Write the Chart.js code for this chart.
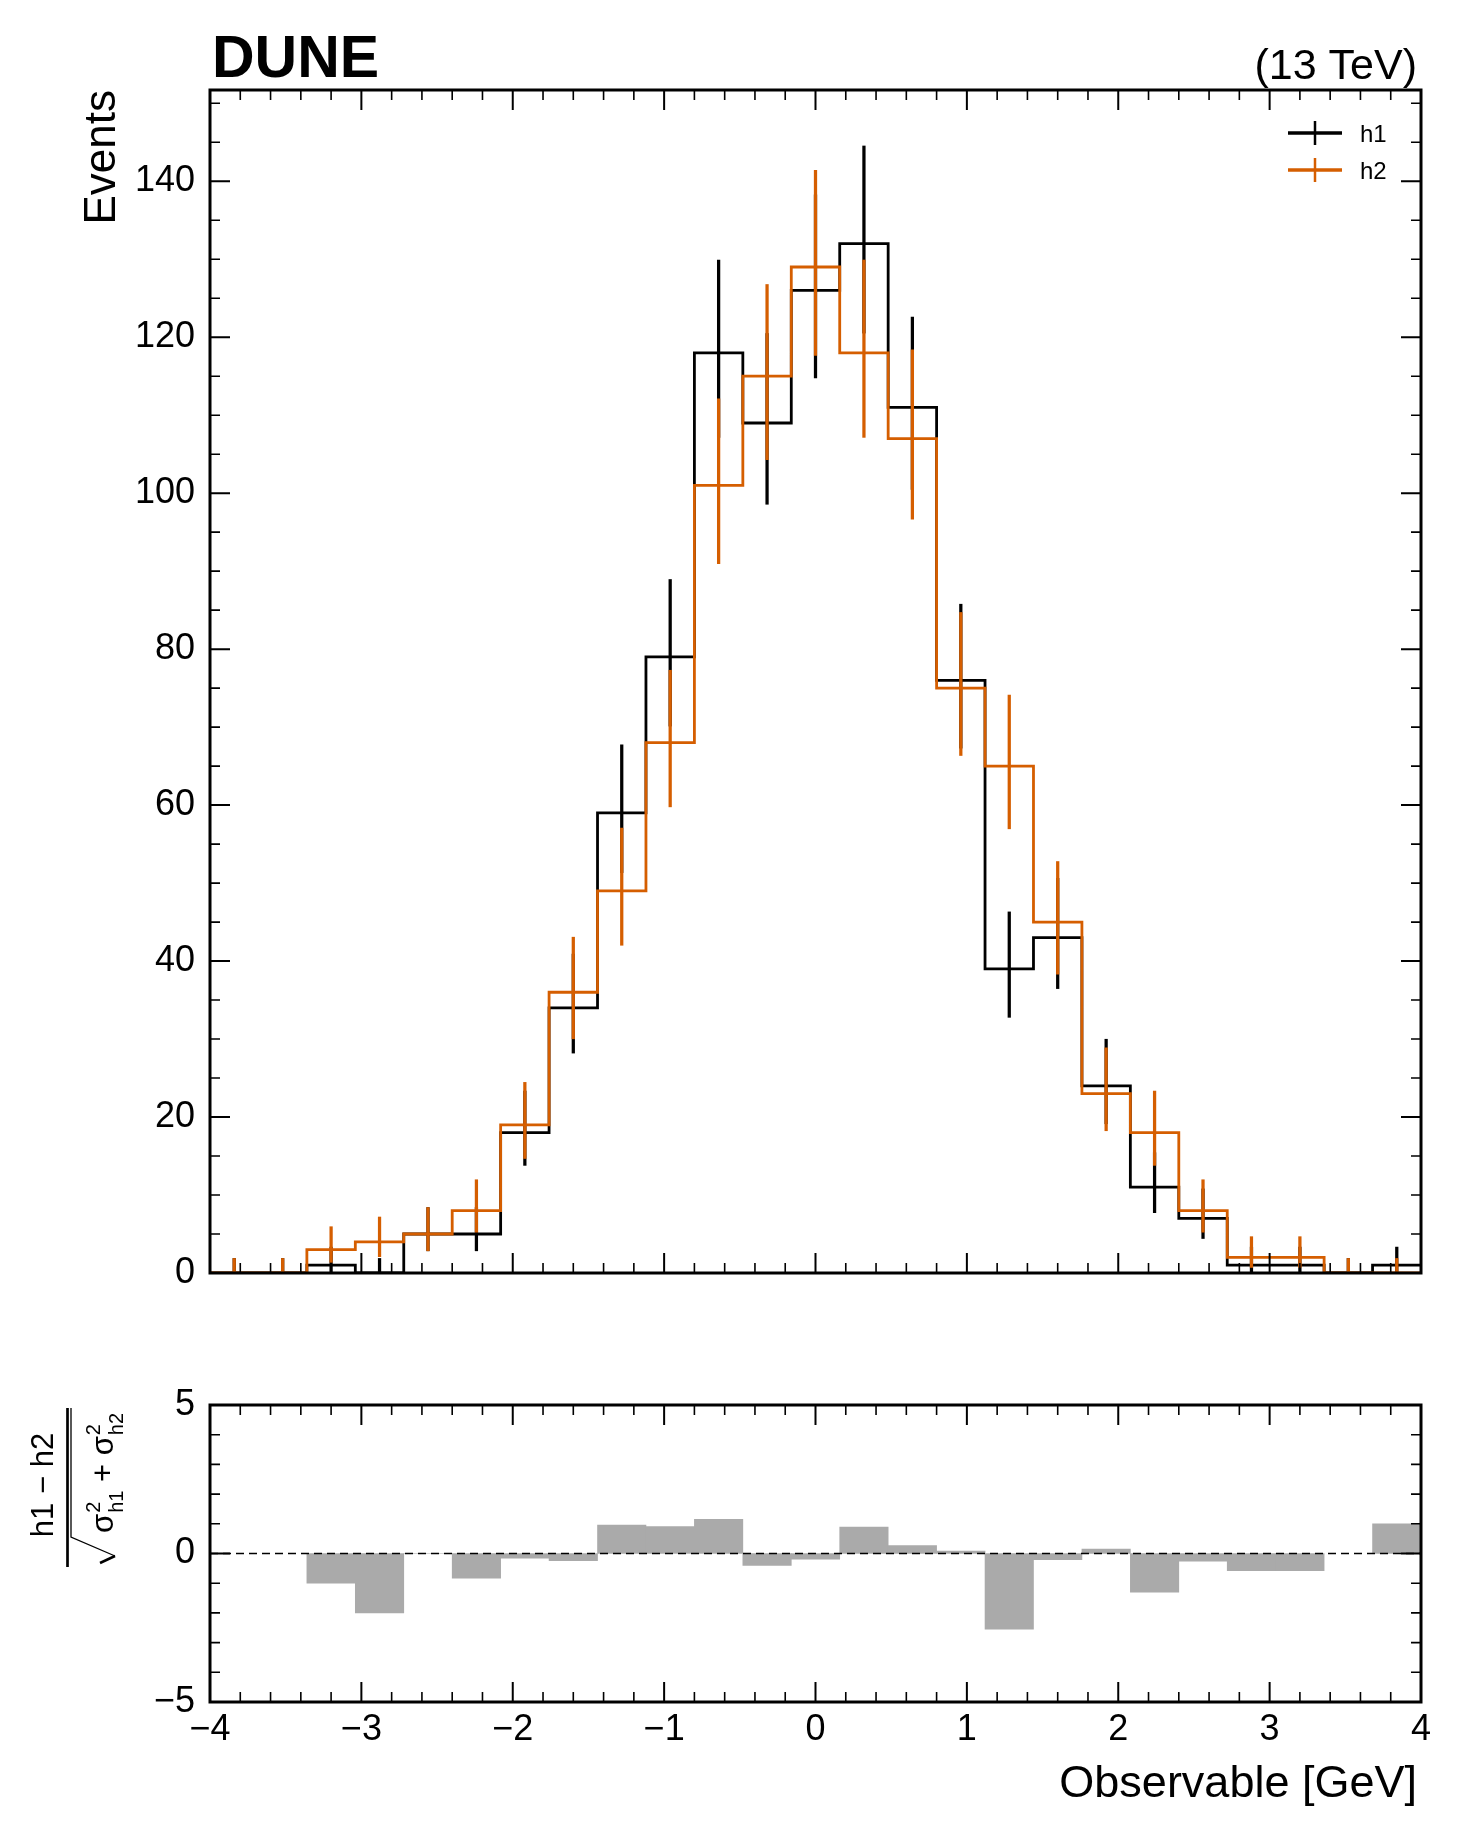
<!DOCTYPE html>
<html>
<head>
<meta charset="utf-8">
<script src="https://cdn.jsdelivr.net/npm/chart.js@4.4.1/dist/chart.umd.min.js"></script>
<style>
  html, body { margin: 0; padding: 0; background: #fff; }
  #wrap { position: relative; width: 1461px; height: 1836px; }
  canvas { position: absolute; left: 0; }
  #main { top: 0; }
  #pull { top: 1340px; }
</style>
</head>
<body>
<div id="wrap">
  <canvas id="main" width="1461" height="1340"></canvas>
  <canvas id="pull" width="1461" height="496"></canvas>
</div>
<script>
const binEdges = [-4, -3.68, -3.36, -3.04, -2.72, -2.4, -2.08, -1.76, -1.44, -1.12, -0.8, -0.48, -0.16,
  0.16, 0.48, 0.8, 1.12, 1.44, 1.76, 2.08, 2.4, 2.72, 3.04, 3.36, 3.68, 4]
const binCenters = [-3.84, -3.52, -3.2, -2.88, -2.56, -2.24, -1.92, -1.6, -1.28, -0.96, -0.64, -0.32, 0,
  0.32, 0.64, 0.96, 1.28, 1.6, 1.92, 2.24, 2.56, 2.88, 3.2, 3.52, 3.84]
const h1 = [0, 0, 1, 0, 5, 5, 18, 34, 59, 79, 118, 109, 126, 132, 111, 76, 39, 43, 24, 11, 7, 1, 1, 0, 1]
const h2 = [0, 0, 3, 4, 5, 8, 19, 36, 49, 68, 101, 115, 129, 118, 107, 75, 65, 45, 23, 18, 8, 2, 2, 0, 0]
const pulls = [null, null, -1.0, -2.0, 0, -0.83, -0.16, -0.24, 0.96, 0.91, 1.15, -0.40, -0.19, 0.89, 0.27,
  0.08, -2.55, -0.21, 0.15, -1.30, -0.26, -0.58, -0.58, null, 1.0]
const xTicks = [-4, -3, -2, -1, 0, 1, 2, 3, 4]
const yTicks = [0, 20, 40, 60, 80, 100, 120, 140]
const pullTicks = [-5, 0, 5]
const seriesNames = ['h1', 'h2']
const seriesColors = ['#000000', '#d55e00']

const FONT = "'Liberation Sans', Arial, Helvetica, sans-serif"
Chart.defaults.font.family = FONT
Chart.defaults.color = '#000'

// poisson (Gehrels) 1 sigma interval, as the error bars of the histograms
const poisLo = n => n > 0 ? n * Math.pow(1 - 1 / (9 * n) - 1 / (3 * Math.sqrt(n)), 3) : 0
const poisHi = n => n + 1 + Math.sqrt(n + 0.75)

const stepPoints = h => binEdges.map((e, i) => ({ x: e, y: h[Math.min(i, h.length - 1)] }))
const errPoints = h => binCenters.map((c, i) => ({ x: c, y: [poisLo(h[i]), poisHi(h[i])] }))
const fmt = v => v < 0 ? '\u2212' + Math.abs(v) : String(v)

const minorX = []
for (let k = 0; k <= 40; k++) minorX.push(Math.round((-4 + k * 0.2) * 10) / 10)

function drawFrame (chart, yMajor, yMinor) {
  const { ctx, chartArea: a, scales } = chart
  ctx.save()
  ctx.strokeStyle = '#000'
  const tick = (v, len, horiz) => {
    ctx.lineWidth = len > 15 ? 2 : 1.6
    ctx.beginPath()
    if (horiz) {
      const p = scales.x.getPixelForValue(v)
      ctx.moveTo(p, a.bottom); ctx.lineTo(p, a.bottom - len)
      ctx.moveTo(p, a.top); ctx.lineTo(p, a.top + len)
    } else {
      const p = scales.y.getPixelForValue(v)
      ctx.moveTo(a.left, p); ctx.lineTo(a.left + len, p)
      ctx.moveTo(a.right, p); ctx.lineTo(a.right - len, p)
    }
    ctx.stroke()
  }
  minorX.forEach(v => tick(v, xTicks.includes(v) ? 20 : 10, true))
  yMinor.forEach(v => tick(v, yMajor.includes(v) ? 20 : 10, false))
  ctx.lineWidth = 3
  ctx.strokeRect(a.left, a.top, a.right - a.left, a.bottom - a.top)
  ctx.restore()
}

function rotText (ctx, text, x, y, font, align) {
  ctx.save()
  ctx.translate(x, y)
  ctx.rotate(-Math.PI / 2)
  ctx.font = font
  ctx.textAlign = align
  ctx.textBaseline = 'alphabetic'
  ctx.fillText(text, 0, 0)
  ctx.restore()
}

const mainDecor = {
  id: 'mainDecor',
  afterDatasetsDraw (chart) {
    const yMinor = []
    for (let k = 0; k <= 30; k++) yMinor.push(k * 5)
    drawFrame(chart, yTicks, yMinor)
  },
  afterDraw (chart) {
    const { ctx, chartArea: a } = chart
    ctx.save()
    ctx.fillStyle = '#000'
    ctx.textBaseline = 'alphabetic'
    ctx.font = 'bold 59px ' + FONT
    ctx.textAlign = 'left'
    ctx.fillText('DUNE', a.left + 2, 77)
    ctx.font = '43px ' + FONT
    ctx.textAlign = 'right'
    ctx.fillText('(13 TeV)', a.right - 4, 79)
    ctx.restore()
    rotText(ctx, 'Events', 115, a.top, '44px ' + FONT, 'right')

    // legend
    seriesNames.forEach((name, i) => {
      const y = a.top + 43 + i * 37
      const x1 = a.right - 133
      const x2 = a.right - 79
      ctx.save()
      ctx.strokeStyle = seriesColors[i]
      ctx.lineWidth = 3.5
      ctx.beginPath()
      ctx.moveTo(x1, y); ctx.lineTo(x2, y)
      ctx.stroke()
      ctx.lineWidth = 2.5
      ctx.beginPath()
      ctx.moveTo((x1 + x2) / 2, y - 12); ctx.lineTo((x1 + x2) / 2, y + 12)
      ctx.stroke()
      ctx.fillStyle = '#000'
      ctx.font = '24px ' + FONT
      ctx.textAlign = 'left'
      ctx.fillText(name, a.right - 61, y + 9)
      ctx.restore()
    })
  }
}

const pullDecor = {
  id: 'pullDecor',
  afterDatasetsDraw (chart) {
    const { ctx, chartArea: a, scales } = chart
    const y0 = scales.y.getPixelForValue(0)
    ctx.save()
    ctx.strokeStyle = '#000'
    ctx.lineWidth = 1.5
    ctx.setLineDash([8, 5])
    ctx.beginPath()
    ctx.moveTo(a.left, y0); ctx.lineTo(a.right, y0)
    ctx.stroke()
    ctx.restore()
    const yMinor = []
    for (let k = -5; k <= 5; k++) yMinor.push(k)
    drawFrame(chart, pullTicks, yMinor)
  },
  afterDraw (chart) {
    const { ctx, chartArea: a } = chart
    const t = a.top
    ctx.save()
    ctx.fillStyle = '#000'
    ctx.textBaseline = 'alphabetic'
    ctx.font = '45px ' + FONT
    ctx.textAlign = 'right'
    ctx.fillText('Observable [GeV]', a.right - 4, a.bottom + 95)
    ctx.restore()

    // y label: (h1 - h2) / sqrt(s1^2 + s2^2)
    rotText(ctx, 'h1 \u2212 h2', 53, t + 80, '31px ' + FONT, 'center')
    ctx.save()
    ctx.strokeStyle = '#000'
    ctx.lineWidth = 2.7
    ctx.beginPath()
    ctx.moveTo(67.5, t + 3); ctx.lineTo(67.5, t + 162)
    ctx.stroke()
    ctx.lineWidth = 1.3
    ctx.beginPath()
    ctx.moveTo(71, t + 3); ctx.lineTo(71, t + 132); ctx.lineTo(115, t + 151)
    ctx.stroke()
    ctx.lineWidth = 2.5
    ctx.beginPath()
    ctx.moveTo(115, t + 151); ctx.lineTo(100, t + 158)
    ctx.stroke()

    ctx.translate(113, t + 128)
    ctx.rotate(-Math.PI / 2)
    ctx.fillStyle = '#000'
    ctx.textAlign = 'left'
    let cur = 0
    const big = '31px ' + FONT
    const small = '20px ' + FONT
    const sigma = sub => {
      ctx.font = big
      ctx.fillText('\u03c3', cur, 0)
      cur += ctx.measureText('\u03c3').width + 1
      ctx.font = small
      ctx.fillText('2', cur, -13)
      ctx.fillText(sub, cur, 10)
      cur += Math.max(ctx.measureText('2').width, ctx.measureText(sub).width)
    }
    sigma('h1')
    ctx.font = big
    ctx.fillText(' + ', cur, 0)
    cur += ctx.measureText(' + ').width
    sigma('h2')
    ctx.restore()
  }
}

const mainDatasets = []
;[h1, h2].forEach((h, i) => {
  mainDatasets.push({
    type: 'line',
    label: seriesNames[i],
    data: stepPoints(h),
    stepped: 'before',
    borderColor: seriesColors[i],
    borderWidth: 2.8,
    pointRadius: 0,
    fill: false,
    borderJoinStyle: 'miter',
    order: 4 - 2 * i
  })
  mainDatasets.push({
    type: 'bar',
    label: seriesNames[i] + ' err',
    data: errPoints(h),
    backgroundColor: seriesColors[i],
    borderWidth: 0,
    barThickness: 2.6,
    grouped: false,
    order: 3 - 2 * i
  })
})

new Chart(document.getElementById('main'), {
  type: 'line',
  data: { datasets: mainDatasets },
  options: {
    responsive: false,
    animation: false,
    events: [],
    layout: { padding: { left: 0, top: 90, right: 40, bottom: 67 } },
    plugins: { legend: { display: false }, tooltip: { enabled: false } },
    scales: {
      x: { type: 'linear', min: -4, max: 4, display: false, offset: false },
      y: {
        type: 'linear',
        min: 0,
        max: 151.7,
        afterBuildTicks: s => { s.ticks = yTicks.map(v => ({ value: v })) },
        afterFit: s => { s.width = 210 },
        grid: { display: false, drawTicks: false },
        border: { display: false },
        ticks: { font: { size: 36 }, padding: 15, callback: fmt }
      }
    }
  },
  plugins: [mainDecor]
})

new Chart(document.getElementById('pull'), {
  type: 'bar',
  data: {
    datasets: [{
      label: 'pull',
      data: binCenters.map((c, i) => ({ x: c, y: pulls[i] })),
      backgroundColor: '#aaaaaa',
      borderWidth: 0,
      barPercentage: 1,
      categoryPercentage: 1,
      grouped: false
    }]
  },
  options: {
    responsive: false,
    animation: false,
    events: [],
    layout: { padding: { left: 0, top: 65, right: 40, bottom: 74 } },
    plugins: { legend: { display: false }, tooltip: { enabled: false } },
    scales: {
      x: {
        type: 'linear',
        min: -4,
        max: 4,
        offset: false,
        afterBuildTicks: s => { s.ticks = xTicks.map(v => ({ value: v })) },
        afterFit: s => { s.height = 60 },
        grid: { display: false, drawTicks: false },
        border: { display: false },
        ticks: { font: { size: 36 }, padding: 6, maxRotation: 0, callback: fmt }
      },
      y: {
        type: 'linear',
        min: -5,
        max: 5,
        afterBuildTicks: s => { s.ticks = pullTicks.map(v => ({ value: v })) },
        afterFit: s => { s.width = 210 },
        grid: { display: false, drawTicks: false },
        border: { display: false },
        ticks: { font: { size: 36 }, padding: 15, callback: fmt }
      }
    }
  },
  plugins: [pullDecor]
})
</script>
</body>
</html>
